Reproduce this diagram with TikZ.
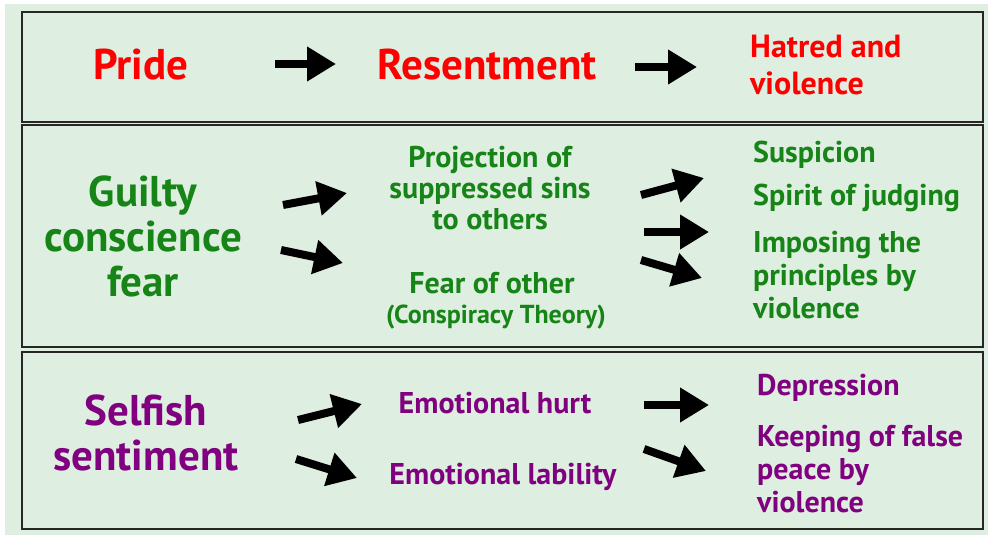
\documentclass[tikz,border=0pt]{standalone}
\usepackage{fontspec}
\setmainfont{PT Sans}
\usetikzlibrary{arrows.meta}
\definecolor{panelbg}{RGB}{222,238,224}
\definecolor{redtxt}{RGB}{255,0,0}
\definecolor{greentxt}{RGB}{22,132,22}
\definecolor{purpletxt}{RGB}{128,0,128}

\begin{document}
\begin{tikzpicture}[x=1pt,y=-1pt]
\tikzset{
    panel/.style={%
        draw=black!85, line width=1.6pt,
        fill=panelbg
        },
    big/.style={%
        font=\fontsize{43}{45}\selectfont\bfseries,
        align=center, inner sep=0pt
        },
    mid/.style={%
        font=\fontsize{30}{31}\selectfont\bfseries,
        align=center, inner sep=0pt
        },
    side/.style={%
        font=\fontsize{30}{33}\selectfont\bfseries,
        align=left, anchor=west, inner sep=0pt
        },
    arr/.style={%
        -{Triangle[length=29pt,width=33pt]},
        line width=8pt
        },
}
%%%BACKGROUND
\useasboundingbox (0,0) rectangle (988,535);
\fill[white] (0,0) rectangle (988,535);
\fill[panelbg] (5,4) rectangle (988,535);
%%%PANELS
\draw[panel] (22,12) rectangle (983,122);
\draw[panel] (22,125) rectangle (983,347);
\draw[panel] (22,352) rectangle (983,529);
%%%PRIDE
\node[big, redtxt] (pride) at (141,65) {Pride};
\node[big, redtxt] (resent) at (487,65) {Resentment};
\node[side, redtxt, font=\fontsize{32}{37}\selectfont\bfseries] (hatred) at (750,65) {Hatred and\\violence};
%%%GUILTY CONSCIENCE
\node[big, greentxt] (guilty) at (143,236) {Guilty\\conscience\\fear};
\node[mid, greentxt] (project) at (490,188) {Projection of\\suppressed sins\\to others};
\node[mid, greentxt] (fearother) at (492,283) {Fear of other};
\node[mid, greentxt, font=\fontsize{26}{26}\selectfont\bfseries] (conspiracy) at (496,317) {(Conspiracy Theory)};
\node[side, greentxt] (suspicion) at (753,155) {Suspicion};
\node[side, greentxt] (judging) at (753,198) {Spirit of judging};
\node[side, greentxt] (imposing) at (753,275) {Imposing the\\principles by\\violence};
%%%SELFISH SENTIMENT
\node[big, purpletxt] (selfish) at (146,433) {Selfish\\sentiment};
\node[mid, purpletxt] (hurt) at (495,403) {Emotional hurt};
\node[mid, purpletxt] (lability) at (503,477) {Emotional lability};
\node[side, purpletxt] (depression) at (757,388) {Depression};
\node[side, purpletxt] (keeping) at (757,469) {Keeping of false\\peace by\\violence};
%%%ARROWS
\coordinate (a1s) at (275,64);  \coordinate (a1e) at (336,64);
\coordinate (a2s) at (635,67);  \coordinate (a2e) at (697,67);
\coordinate (g1s) at (283,205); \coordinate (g1e) at (347,193);
\coordinate (g2s) at (281,250); \coordinate (g2e) at (343,263);
\coordinate (r1s) at (641,195); \coordinate (r1e) at (704,178);
\coordinate (r2s) at (644,232); \coordinate (r2e) at (709,232);
\coordinate (r3s) at (641,260); \coordinate (r3e) at (702,278);
\coordinate (s1s) at (298,420); \coordinate (s1e) at (362,404);
\coordinate (s2s) at (296,459); \coordinate (s2e) at (357,478);
\coordinate (t1s) at (644,405); \coordinate (t1e) at (709,405);
\coordinate (t2s) at (644,449); \coordinate (t2e) at (706,471);
\foreach \a in {a1,a2,g1,g2,r1,r2,r3,s1,s2,t1,t2}
    \draw[arr] (\a s) -- (\a e);
\end{tikzpicture}
\end{document}
